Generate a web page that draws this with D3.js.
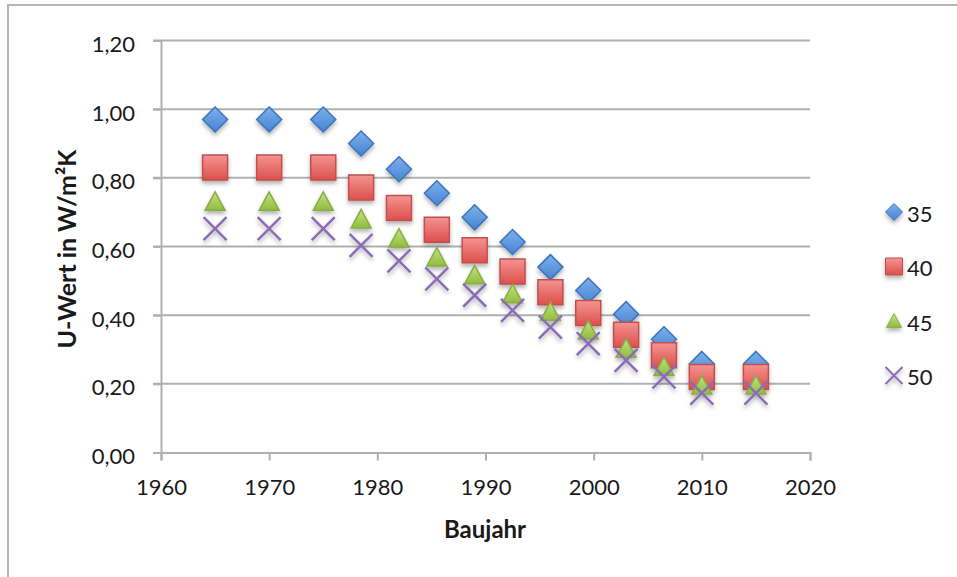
<!DOCTYPE html>
<html>
<head>
<meta charset="utf-8">
<script src="https://cdn.jsdelivr.net/npm/d3@7"></script>
<style>
  html, body { margin: 0; padding: 0; background: #fff; }
  svg { display: block; font-family: Lato, "Open Sans", sans-serif; }
</style>
</head>
<body>
<svg id="chart" width="957" height="577"></svg>
<script>
// Baujahr (construction year) for every measurement point
const years = [1965, 1970, 1975, 1978.5, 1982, 1985.5, 1989, 1992.5, 1996, 1999.5, 2003, 2006.5, 2010, 2015];

// U-values in W/m²K, one list per series
const u35 = [0.97, 0.97, 0.97, 0.90, 0.825, 0.755, 0.685, 0.613, 0.54, 0.472, 0.403, 0.33, 0.258, 0.258];
const u40 = [0.83, 0.83, 0.83, 0.772, 0.712, 0.649, 0.589, 0.527, 0.467, 0.406, 0.343, 0.283, 0.22, 0.22];
const u45 = [0.73, 0.73, 0.73, 0.679, 0.623, 0.568, 0.516, 0.461, 0.409, 0.355, 0.302, 0.249, 0.195, 0.195];
const u50 = [0.652, 0.652, 0.652, 0.603, 0.558, 0.506, 0.458, 0.414, 0.365, 0.317, 0.268, 0.22, 0.173, 0.173];

const seriesNames = ["35", "40", "45", "50"];
const xTicks = [1960, 1970, 1980, 1990, 2000, 2010, 2020];
const yTicks = [0, 0.2, 0.4, 0.6, 0.8, 1.0, 1.2];

const series = [
  { name: seriesNames[0], values: u35, shape: "diamond" },
  { name: seriesNames[1], values: u40, shape: "square" },
  { name: seriesNames[2], values: u45, shape: "triangle" },
  { name: seriesNames[3], values: u50, shape: "cross" }
];

const svg = d3.select("#chart");

// outer chart frame (top and left edges visible)
svg.append("path")
  .attr("d", "M8,577 V5 H957")
  .attr("fill", "none").attr("stroke", "#b5b5b5").attr("stroke-width", 2);

const x = d3.scaleLinear().domain([1960, 2020]).range([161, 810]);
const y = d3.scaleLinear().domain([0, 1.2]).range([452.5, 40.5]);

const defs = svg.append("defs");
const shadow = defs.append("filter").attr("id", "shadow")
  .attr("x", "-50%").attr("y", "-50%").attr("width", "200%").attr("height", "200%");
shadow.append("feDropShadow").attr("dx", 0).attr("dy", 3).attr("stdDeviation", 2)
  .attr("flood-color", "#000").attr("flood-opacity", 0.3);

function grad(id, top, bottom) {
  const g = defs.append("linearGradient").attr("id", id)
    .attr("x1", 0).attr("y1", 0).attr("x2", 0).attr("y2", 1);
  g.append("stop").attr("offset", "0%").attr("stop-color", top);
  g.append("stop").attr("offset", "100%").attr("stop-color", bottom);
}
grad("gBlue", "#7eb1ec", "#4683d1");
grad("gRed", "#f49491", "#dc4f4b");
grad("gGreen", "#c3e285", "#8fbd3c");

const styles = {
  diamond:  { fill: "url(#gBlue)",  stroke: "#3c74bd", size: 25 },
  square:   { fill: "url(#gRed)",   stroke: "#c0504d", size: 25 },
  triangle: { fill: "url(#gGreen)", stroke: "#88ad45", size: 20 },
  cross:    { fill: "none",         stroke: "#8a6db6", size: 23 }
};

function shapePath(shape, s) {
  const h = s / 2;
  switch (shape) {
    case "diamond":  return `M0,${-h}L${h},0L0,${h}L${-h},0Z`;
    case "square":   return `M${-h},${-h}H${h}V${h}H${-h}Z`;
    case "triangle": return `M0,${-h}L${h},${h * 0.85}L${-h},${h * 0.85}Z`;
    case "cross":    return `M${-h},${-h}L${h},${h}M${h},${-h}L${-h},${h}`;
  }
}

// horizontal gridlines
svg.append("g").selectAll("line").data(yTicks.slice(1)).join("line")
  .attr("x1", 153).attr("x2", 810)
  .attr("y1", d => y(d)).attr("y2", d => y(d))
  .attr("stroke", "#b0b0b0").attr("stroke-width", 2);

// y axis
const yAxis = svg.append("g").attr("transform", "translate(161,0)")
  .call(d3.axisLeft(y).tickValues(yTicks).tickSize(8)
    .tickFormat(d => d3.format(".2f")(d).replace(".", ",")));
yAxis.select(".domain").attr("stroke", "#b0b0b0").attr("stroke-width", 2);
yAxis.selectAll(".tick line").attr("stroke", "#b0b0b0").attr("stroke-width", 2);
yAxis.selectAll(".tick text")
  .attr("x", -26).attr("dy", "0.5em")
  .attr("font-size", 22).attr("fill", "#1a1a1a").attr("font-family", "Lato, sans-serif");

// x axis
const xAxis = svg.append("g").attr("transform", "translate(0,452.5)")
  .call(d3.axisBottom(x).tickValues(xTicks).tickSize(8).tickFormat(d3.format("d")));
xAxis.select(".domain").attr("stroke", "#b0b0b0").attr("stroke-width", 2);
xAxis.selectAll(".tick line").attr("stroke", "#b0b0b0").attr("stroke-width", 2);
xAxis.selectAll(".tick text")
  .attr("y", 27).attr("dy", "0.71em")
  .attr("font-size", 22).attr("fill", "#1a1a1a").attr("font-family", "Lato, sans-serif");

// axis titles
svg.append("text")
  .attr("x", 485).attr("y", 538)
  .attr("text-anchor", "middle").attr("font-weight", "bold").attr("font-size", 24)
  .attr("fill", "#1a1a1a").text("Baujahr");

svg.append("text")
  .attr("transform", "translate(76,249) rotate(-90)")
  .attr("text-anchor", "middle").attr("font-weight", "bold").attr("font-size", 25)
  .attr("fill", "#1a1a1a").text("U-Wert in W/m²K");

// markers
const plot = svg.append("g").attr("filter", "url(#shadow)");
series.forEach(s => {
  const st = styles[s.shape];
  plot.append("g").selectAll("path").data(s.values).join("path")
    .attr("transform", (v, i) => `translate(${x(years[i])},${y(v)})`)
    .attr("d", shapePath(s.shape, st.size))
    .attr("fill", st.fill)
    .attr("stroke", st.stroke)
    .attr("stroke-width", s.shape === "cross" ? 2.5 : 1.5);
});

// legend
const legend = svg.append("g");
series.forEach((s, i) => {
  const st = styles[s.shape];
  const ly = 214 + i * 54.5;
  legend.append("path")
    .attr("transform", `translate(894,${ly - 2})`)
    .attr("d", shapePath(s.shape, s.shape === "triangle" ? 15 : 17))
    .attr("fill", st.fill).attr("stroke", st.stroke)
    .attr("stroke-width", s.shape === "cross" ? 2 : 1)
    .attr("filter", "url(#shadow)");
  legend.append("text")
    .attr("x", 907).attr("y", ly).attr("dy", "0.36em")
    .attr("font-size", 22).attr("fill", "#1a1a1a").text(s.name);
});
</script>
</body>
</html>
